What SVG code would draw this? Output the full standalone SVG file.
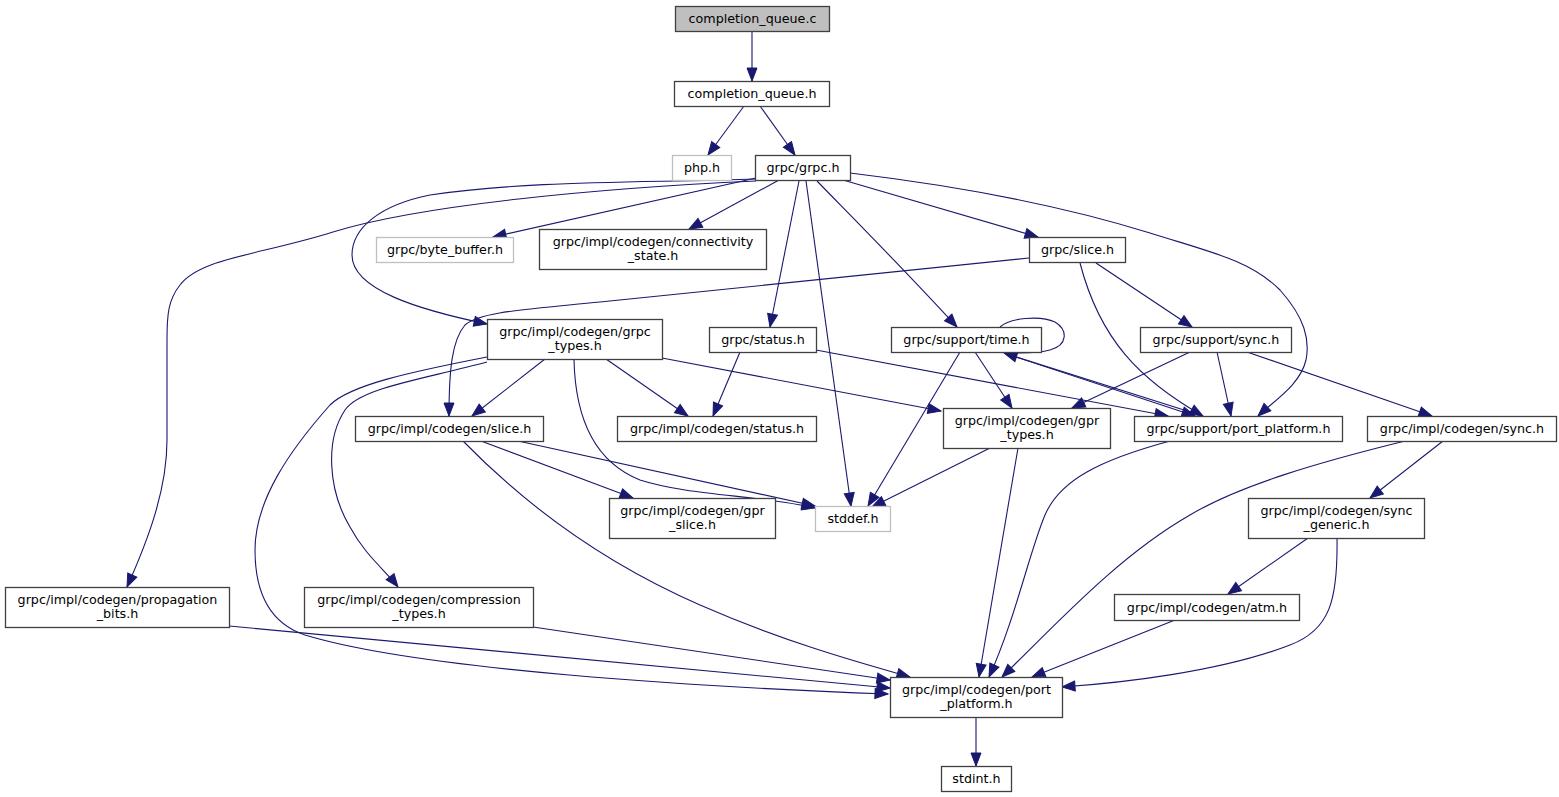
<svg xmlns="http://www.w3.org/2000/svg" width="1559" height="797" viewBox="0 0 1559 797">
<defs>
<marker id="arr" markerUnits="userSpaceOnUse" markerWidth="13" markerHeight="10" refX="13" refY="5" orient="auto" overflow="visible">
<path d="M0,0 L13,5 L0,10 z" fill="#191970" stroke="#191970" stroke-width="1"/>
</marker>
<style>
.n rect{fill:#ffffff;stroke:#404040;stroke-width:1.3}
.n.root rect{fill:#bfbfbf}
.n.ext rect{stroke:#bfbfbf}
.n text{font-family:"DejaVu Sans","Liberation Sans",sans-serif;font-size:12.7px;fill:#000;text-anchor:middle}
.e path{fill:none;stroke:#191970;stroke-width:1.1;marker-end:url(#arr)}
.e path.loop{marker-end:none}
</style>
</defs>
<rect x="0" y="0" width="1559" height="797" fill="#ffffff"/>
<g id="edges" class="e">
<path d="M752,31 L752,81"/>
<path d="M744,106 L708,155"/>
<path d="M760,106 L795,155"/>
<path d="M756,178 L493,237"/>
<path d="M779,180 L689,229"/>
<path d="M756,179 C650,183 530,180 430,195 C380,205 352,228 352,255 C352,290 420,310 487,324"/>
<path d="M756,181 C600,188 420,205 333,232 C260,255 200,258 180,285 C168,300 167,315 167,340 L167,440 C167,490 148,540 127,587"/>
<path d="M799,181 L770,327"/>
<path d="M806,181 L851,506"/>
<path d="M817,181 C850,215 900,265 957,327"/>
<path d="M843,180 L1038,237"/>
<path d="M850,173 C950,185 1060,205 1150,233 C1210,252 1250,260 1280,290 C1305,318 1310,340 1306,360 C1300,385 1275,400 1258,416"/>
<path d="M1029,258 L600,302 C520,310 480,312 465,325 C452,340 449,370 449,416"/>
<path d="M1080,263 C1100,340 1140,380 1203,416"/>
<path d="M1096,263 L1192,327"/>
<path d="M545,359 L472,416"/>
<path d="M606,359 L688,416"/>
<path d="M662,358 L941,411"/>
<path d="M574,359 C575,410 590,460 640,480 C690,496 760,495 815,508"/>
<path d="M487,362 C420,380 360,388 345,410 C325,440 328,490 350,527 C365,555 385,570 398,587"/>
<path d="M487,357 C410,372 350,385 330,405 C290,450 255,500 255,550 C255,600 275,625 305,635 C420,670 700,687 888,694"/>
<path d="M740,352 L713,416"/>
<path d="M816,350 L1168,416"/>
<path d="M960,352 L868,506"/>
<path d="M975,352 L1012,408"/>
<path d="M1190,352 L1072,408"/>
<path d="M1217,352 L1231,416"/>
<path d="M1247,352 L1432,416"/>
<path d="M481,441 L633,498"/>
<path d="M518,441 L815,506"/>
<path d="M463,441 C540,520 620,570 700,605 C780,640 850,660 910,677"/>
<path d="M990,448 L872,507"/>
<path d="M1018,448 L979,677"/>
<path d="M1170,441 C1100,460 1060,480 1045,515 C1030,550 1015,620 989,677"/>
<path d="M1405,441 C1320,462 1240,485 1190,515 C1120,555 1060,620 1002,677"/>
<path d="M1443,441 L1370,498"/>
<path d="M1308,538 L1228,594"/>
<path d="M1337,538 C1338,600 1330,630 1290,645 C1220,672 1120,683 1062,687"/>
<path d="M1175,620 L1032,677"/>
<path d="M229,626 L890,688"/>
<path d="M533,627 L890,680"/>
<path d="M976,717 L976,766"/>
<path class="loop" d="M1000,327 C1010,318 1040,315 1055,322 C1068,330 1068,345 1050,350 C1040,353 1030,353 1018,353"/>
<path d="M1010,355 L1195,416"/>
<path d="M1203,416 L1004,353"/>
</g>
<g id="nodes" transform="translate(0.5,0.5)">
<g id="n_cqc" class="n root"><rect x="675" y="6" width="154" height="25"/><text x="752" y="22.5">completion_queue.c</text></g>
<g id="n_cqh" class="n"><rect x="674" y="81" width="155" height="25"/><text x="751.5" y="97.5">completion_queue.h</text></g>
<g id="n_php" class="n ext"><rect x="672" y="155" width="59" height="25"/><text x="701.5" y="171.5">php.h</text></g>
<g id="n_grpc" class="n"><rect x="755" y="155" width="95" height="25"/><text x="802.5" y="171.5">grpc/grpc.h</text></g>
<g id="n_bb" class="n ext"><rect x="376" y="237" width="137" height="25"/><text x="444.5" y="253.5">grpc/byte_buffer.h</text></g>
<g id="n_conn" class="n"><rect x="539" y="229" width="227" height="40"/><text x="652.5" y="245">grpc/impl/codegen/connectivity</text><text x="652.5" y="259">_state.h</text></g>
<g id="n_slice" class="n"><rect x="1029" y="237" width="96" height="25"/><text x="1077" y="253.5">grpc/slice.h</text></g>
<g id="n_types" class="n"><rect x="487" y="319" width="175" height="40"/><text x="574.5" y="335">grpc/impl/codegen/grpc</text><text x="574.5" y="349">_types.h</text></g>
<g id="n_status" class="n"><rect x="709" y="327" width="107" height="25"/><text x="762.5" y="343.5">grpc/status.h</text></g>
<g id="n_time" class="n"><rect x="891" y="327" width="150" height="25"/><text x="966" y="343.5">grpc/support/time.h</text></g>
<g id="n_sync" class="n"><rect x="1140" y="327" width="151" height="25"/><text x="1215.5" y="343.5">grpc/support/sync.h</text></g>
<g id="n_cslice" class="n"><rect x="355" y="416" width="188" height="25"/><text x="449" y="432.5">grpc/impl/codegen/slice.h</text></g>
<g id="n_cstatus" class="n"><rect x="617" y="416" width="199" height="25"/><text x="716.5" y="432.5">grpc/impl/codegen/status.h</text></g>
<g id="n_gprtypes" class="n"><rect x="943" y="408" width="167" height="40"/><text x="1026.5" y="424">grpc/impl/codegen/gpr</text><text x="1026.5" y="438">_types.h</text></g>
<g id="n_spp" class="n"><rect x="1134" y="416" width="208" height="25"/><text x="1238" y="432.5">grpc/support/port_platform.h</text></g>
<g id="n_csync" class="n"><rect x="1367" y="416" width="189" height="25"/><text x="1461.5" y="432.5">grpc/impl/codegen/sync.h</text></g>
<g id="n_gprslice" class="n"><rect x="609" y="498" width="166" height="40"/><text x="692" y="514">grpc/impl/codegen/gpr</text><text x="692" y="528">_slice.h</text></g>
<g id="n_stddef" class="n ext"><rect x="815" y="506" width="75" height="25"/><text x="852.5" y="522.5">stddef.h</text></g>
<g id="n_syncgen" class="n"><rect x="1248" y="498" width="176" height="40"/><text x="1336" y="514">grpc/impl/codegen/sync</text><text x="1336" y="528">_generic.h</text></g>
<g id="n_atm" class="n"><rect x="1114" y="594" width="185" height="26"/><text x="1206.5" y="611">grpc/impl/codegen/atm.h</text></g>
<g id="n_prop" class="n"><rect x="5" y="587" width="224" height="40"/><text x="117" y="603">grpc/impl/codegen/propagation</text><text x="117" y="617">_bits.h</text></g>
<g id="n_comp" class="n"><rect x="304" y="587" width="229" height="40"/><text x="418.5" y="603">grpc/impl/codegen/compression</text><text x="418.5" y="617">_types.h</text></g>
<g id="n_cpp" class="n"><rect x="890" y="677" width="172" height="40"/><text x="976" y="693">grpc/impl/codegen/port</text><text x="976" y="707">_platform.h</text></g>
<g id="n_stdint" class="n"><rect x="941" y="766" width="70" height="25"/><text x="976" y="782.5">stdint.h</text></g>
</g>
</svg>
